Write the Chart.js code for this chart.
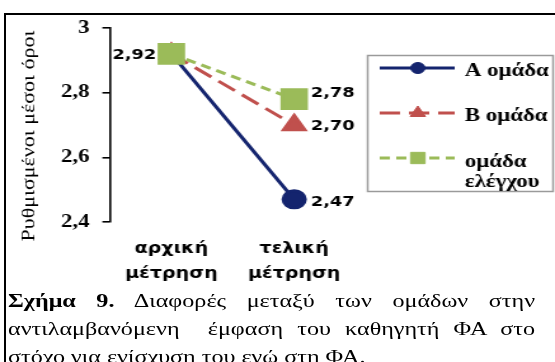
<!DOCTYPE html>
<html>
<head>
<meta charset="utf-8">
<script src="https://cdn.jsdelivr.net/npm/chart.js@4/dist/chart.umd.min.js"></script>
<style>
  html, body { margin: 0; padding: 0; background: #fff; width: 555px; height: 362px; overflow: hidden; }
  #frameTop { position: absolute; left: 4px; top: 13px; width: 551px; height: 2px; background: #000; }
  #frameLeft { position: absolute; left: 4px; top: 13px; width: 2px; height: 349px; background: #000; }
  .wide { position: absolute; transform: scaleX(1.27); transform-origin: 0 0; }
  #wrap { left: 0; top: 0; width: 437px; height: 290px; }
  #caption { left: 7.9px; top: 287px; width: 415px; font-family: "Liberation Serif", "Times New Roman", serif; font-size: 19px; line-height: 28px; color: #000; }
  #caption div { white-space: nowrap; }
  #caption .j { white-space: normal; text-align: justify; text-align-last: justify; }
</style>
</head>
<body>
<div id="frameTop"></div>
<div id="frameLeft"></div>
<div id="wrap" class="wide"><canvas id="c" width="437" height="290"></canvas></div>
<div id="caption" class="wide">
  <div class="j"><b>Σχήμα 9.</b> Διαφορές μεταξύ των ομάδων στην</div>
  <div class="j">αντιλαμβανόμενη &nbsp;έμφαση του καθηγητή ΦΑ στο</div>
  <div>στόχο για ενίσχυση του εγώ στη ΦΑ.</div>
</div>
<script>
// Measurement points and group means
const categories = [['αρχική', 'μέτρηση'], ['τελική', 'μέτρηση']];
const seriesNames = ['A ομάδα', 'B ομάδα', 'ομάδα ελέγχου'];
const groupA = [2.92, 2.47];
const groupB = [2.92, 2.70];
const controlGroup = [2.92, 2.78];
const yTicks = [2.4, 2.6, 2.8, 3];
const yTitle = 'Ρυθμισμένοι μέσοι όροι';

const fmtTick = v => String(Number(v.toFixed(1))).replace('.', ',');
const fmtVal = v => v.toFixed(2).replace('.', ',');

// Rotated axis title, drawn condensed
const axisTitlePlugin = {
  id: 'axisTitle',
  afterDraw(chart) {
    const ctx = chart.ctx;
    ctx.save();
    ctx.translate(23.6, 136);
    ctx.rotate(-Math.PI / 2);
    ctx.scale(1, 0.66);
    ctx.font = '22px "Liberation Serif", serif';
    ctx.fillStyle = '#000';
    ctx.textAlign = 'center';
    ctx.textBaseline = 'middle';
    ctx.fillText(yTitle, 0, 0);
    ctx.restore();
  }
};

// Value labels beside the points
const valueLabelPlugin = {
  id: 'valueLabels',
  afterDatasetsDraw(chart) {
    const ctx = chart.ctx;
    ctx.save();
    ctx.font = 'bold 14px "DejaVu Sans", sans-serif';
    ctx.fillStyle = '#000';
    ctx.textBaseline = 'middle';
    const shiftY = [3, 1, -6];
    chart.data.datasets.forEach((ds, i) => {
      const meta = chart.getDatasetMeta(i);
      meta.data.forEach((pt, j) => {
        if (j === 0) {
          if (i !== 0) return;
          ctx.textAlign = 'right';
          ctx.fillText(fmtVal(ds.data[j]), pt.x - 12, pt.y + 1);
        } else {
          ctx.textAlign = 'left';
          ctx.fillText(fmtVal(ds.data[j]), pt.x + 13, pt.y + shiftY[i]);
        }
      });
    });
    ctx.restore();
  }
};

// Boxed legend to the right of the plot
const boxLegendPlugin = {
  id: 'boxLegend',
  afterDraw(chart) {
    const ctx = chart.ctx;
    const box = { x: 289.5, y: 55.5, w: 146, h: 136 };
    ctx.save();
    ctx.strokeStyle = '#9a9a9a';
    ctx.lineWidth = 1.5;
    ctx.strokeRect(box.x, box.y, box.w, box.h);
    const rowY = [68, 113, 158];
    const markR = [5.5, 7, 8];
    chart.data.datasets.forEach((ds, i) => {
      const y = rowY[i];
      ctx.save();
      ctx.strokeStyle = ds.borderColor;
      ctx.lineWidth = 3;
      ctx.setLineDash(ds.borderDash || []);
      ctx.beginPath();
      ctx.moveTo(299, y);
      ctx.lineTo(358, y);
      ctx.stroke();
      ctx.restore();
      ctx.save();
      ctx.fillStyle = ds.pointBackgroundColor;
      ctx.strokeStyle = ds.pointBorderColor;
      ctx.lineWidth = 1;
      Chart.helpers.drawPoint(ctx, { pointStyle: ds.pointStyle, rotation: 0, borderWidth: 1, radius: markR[i] }, 329, y);
      ctx.restore();
      ctx.font = 'bold 18px "Liberation Serif", serif';
      ctx.fillStyle = '#000';
      ctx.textAlign = 'left';
      ctx.textBaseline = 'middle';
      const words = ds.label.split(' ');
      const lines = [];
      let cur = '';
      words.forEach(w => {
        const t = cur ? cur + ' ' + w : w;
        if (cur && ctx.measureText(t).width > 72) { lines.push(cur); cur = w; } else { cur = t; }
      });
      lines.push(cur);
      lines.forEach((ln, k) => ctx.fillText(ln, 366, y + 3 + (lines.length > 1 ? 1 : 0) + k * 20));
    });
    ctx.restore();
  }
};

new Chart(document.getElementById('c'), {
  type: 'line',
  data: {
    labels: categories,
    datasets: [
      {
        label: seriesNames[0], data: groupA, order: 2,
        borderColor: '#14246e', backgroundColor: '#14246e',
        pointBackgroundColor: '#14246e', pointBorderColor: '#14246e',
        borderWidth: 3, pointStyle: 'circle', pointRadius: 8.5, pointHoverRadius: 8.5
      },
      {
        label: seriesNames[1], data: groupB, order: 1,
        borderColor: '#c0504d', backgroundColor: '#c0504d',
        pointBackgroundColor: '#c0504d', pointBorderColor: '#c0504d',
        borderWidth: 3, borderDash: [16, 7], pointStyle: 'triangle', pointRadius: 9.5, pointHoverRadius: 9.5
      },
      {
        label: seriesNames[2], data: controlGroup, order: 0,
        borderColor: '#9bbb59', backgroundColor: '#9bbb59',
        pointBackgroundColor: '#9bbb59', pointBorderColor: '#9bbb59',
        borderWidth: 3, borderDash: [8, 5], pointStyle: 'rect', pointRadius: 13.2, pointHoverRadius: 13.2
      }
    ]
  },
  options: {
    responsive: false,
    animation: false,
    devicePixelRatio: 1,
    layout: { padding: { top: 28, right: 157, bottom: 0, left: 0 } },
    plugins: { legend: { display: false }, tooltip: { enabled: false } },
    scales: {
      x: {
        offset: true,
        grid: { display: false },
        border: { display: false },
        ticks: {
          color: '#000', padding: 7, maxRotation: 0,
          font: { family: '"DejaVu Sans", sans-serif', weight: 'bold', size: 15, lineHeight: 1.67 }
        },
        afterFit(scale) { scale.height = 68; }
      },
      y: {
        min: 2.4, max: 3,
        afterBuildTicks(scale) { scale.ticks = yTicks.map(v => ({ value: v })); },
        grid: { drawOnChartArea: false, drawTicks: true, tickLength: 6, color: '#000', lineWidth: 1.6 },
        border: { display: true, color: '#000', width: 1.6 },
        ticks: {
          color: '#000', padding: 10,
          font: { family: '"Liberation Serif", serif', weight: 'bold', size: 18 },
          callback: v => fmtTick(v)
        },
        afterFit(scale) { scale.width = 86.6; }
      }
    }
  },
  plugins: [axisTitlePlugin, valueLabelPlugin, boxLegendPlugin]
});
</script>
</body>
</html>
